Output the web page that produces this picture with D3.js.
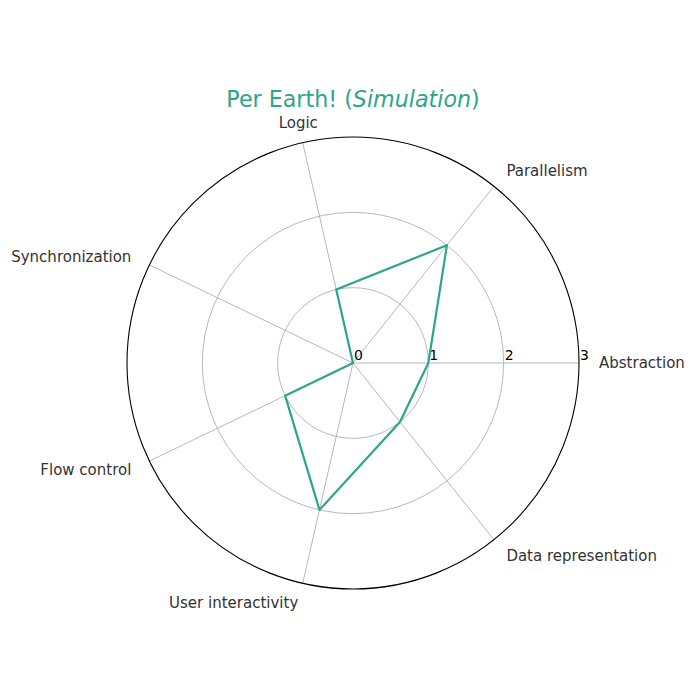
<!DOCTYPE html>
<html><head><meta charset="utf-8">
<script src="https://cdn.jsdelivr.net/npm/d3@7"></script>
<style>body{margin:0;background:#fff}</style>
</head><body>
<svg id="c" width="700" height="700"></svg>
<script>
const categories = ["Abstraction","Parallelism","Logic","Synchronization","Flow control","User interactivity","Data representation"];
const values = [1,2,1,0,1,2,1];
const tickValues = [0,1,2,3];
const titleMain = "Per Earth! (";
const titleItalic = "Simulation";
const titleEnd = ")";

const svg = d3.select("#c");
const cx = 353, cy = 363, R = 226;
const color = "#2ca58d";
const r = d3.scaleLinear().domain([0,3]).range([0,R]);
const ang = d3.scaleLinear().domain([0,categories.length]).range([0,2*Math.PI]);
const g = svg.append("g").attr("transform",`translate(${cx},${cy})`);

tickValues.filter(v=>v>0&&v<3).forEach(v=>{
  g.append("circle").attr("r",r(v)).attr("fill","none").attr("stroke","#b0b0b0").attr("stroke-width",0.9);
});
categories.forEach((c,i)=>{
  const a = ang(i);
  g.append("line").attr("x1",0).attr("y1",0)
    .attr("x2",r(3)*Math.cos(a)).attr("y2",-r(3)*Math.sin(a))
    .attr("stroke","#b0b0b0").attr("stroke-width",0.9);
});
g.append("circle").attr("r",r(3)).attr("fill","none").attr("stroke","#000").attr("stroke-width",1.1);

tickValues.forEach(v=>{
  g.append("text").attr("x",r(v)+1).attr("y",-3).text(v)
   .attr("font-family","DejaVu Sans").attr("font-size",14).attr("fill","#000");
});

categories.forEach((c,i)=>{
  const a = ang(i);
  const cs = Math.cos(a), sn = Math.sin(a);
  let anchor = cs > 0.3 ? "start" : (cs < -0.3 ? "end" : (sn > 0 ? "middle" : "end"));
  const rr = R + 20;
  g.append("text").attr("x",rr*cs).attr("y",-rr*sn).attr("dy","0.35em")
   .attr("text-anchor",anchor).text(c)
   .attr("font-family","DejaVu Sans").attr("font-size",15).attr("fill","#333");
});

const line = d3.lineRadial().angle((d,i)=>Math.PI/2 - ang(i)).radius(d=>r(d)).curve(d3.curveLinearClosed);
g.append("path").attr("d",line(values)).attr("fill","none").attr("stroke",color).attr("stroke-width",2.2).attr("stroke-linejoin","round");

const t = svg.append("text").attr("x",cx).attr("y",107).attr("text-anchor","middle")
  .attr("font-family","DejaVu Sans").attr("font-size",22.2).attr("fill",color);
t.append("tspan").text(titleMain);
t.append("tspan").attr("font-style","italic").text(titleItalic);
t.append("tspan").text(titleEnd);
</script>
</body></html>
